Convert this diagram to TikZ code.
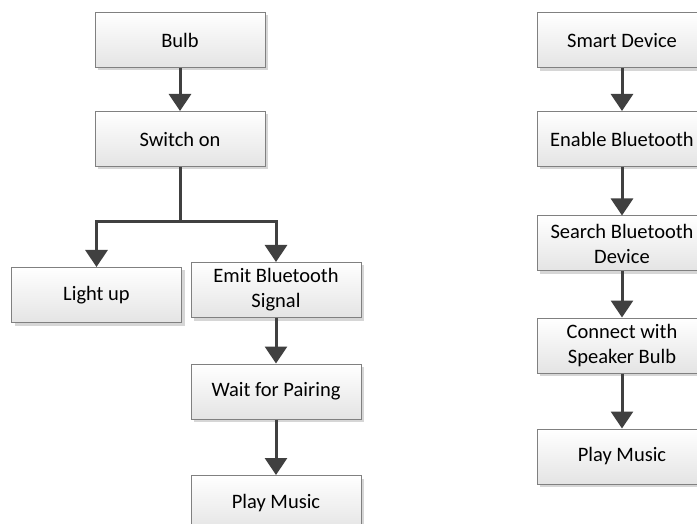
\documentclass[tikz,border=0pt]{standalone}
\usepackage{fontspec}
\setmainfont{Carlito}
\usetikzlibrary{arrows.meta,shadows}
\definecolor{arrowc}{HTML}{404040}
\definecolor{boxborder}{HTML}{808080}
\definecolor{boxbottom}{HTML}{E4E4E4}
\definecolor{shadowc}{HTML}{D6D6D6}
\tikzset{
  box/.style={draw=boxborder, line width=1pt, top color=white, bottom color=boxbottom,
    minimum width=170pt, minimum height=55pt, inner sep=0pt, align=center,
    font=\fontsize{20.5}{25}\selectfont, text=black,
    drop shadow={shadow xshift=3pt, shadow yshift=-3pt, fill=shadowc, opacity=1}},
  arr/.style={draw=arrowc, line width=3pt, -{Triangle[width=22pt,length=17pt]}},
  conn/.style={draw=arrowc, line width=3pt},
}
\begin{document}
\begin{tikzpicture}[x=1pt,y=-1pt]
\clip (0,0) rectangle (697,524);
\fill[white] (0,0) rectangle (697,524);
% left column
\node[box] (bulb) at (180,40) {Bulb};
\node[box] (sw) at (180,139) {Switch on};
\node[box] (light) at (96.5,295) {Light up};
\node[box] (emit) at (276,290) {Emit Bluetooth\\Signal};
\node[box] (wait) at (276,391.5) {Wait for Pairing};
\node[box] (play) at (276,503) {Play Music};
\coordinate (split) at (180,222);
% right column
\node[box] (smart) at (622,40.5) {Smart Device};
\node[box] (enable) at (622,139) {Enable Bluetooth};
\node[box] (search) at (622,243.5) {Search Bluetooth\\Device};
\node[box] (connect) at (622,345.5) {Connect with\\Speaker Bulb};
\node[box] (play2) at (622,456.5) {Play Music};
% connectors
\draw[arr] (bulb) -- (sw);
\draw[conn] (sw.south) -- (split);
\draw[arr] (split) -| (light.north);
\draw[arr] (split) -| (emit.north);
\draw[arr] (emit) -- (wait);
\draw[arr] (wait) -- (play);
\draw[arr] (smart) -- (enable);
\draw[arr] (enable) -- (search);
\draw[arr] (search) -- (connect);
\draw[arr] (connect) -- (play2);
\end{tikzpicture}
\end{document}
